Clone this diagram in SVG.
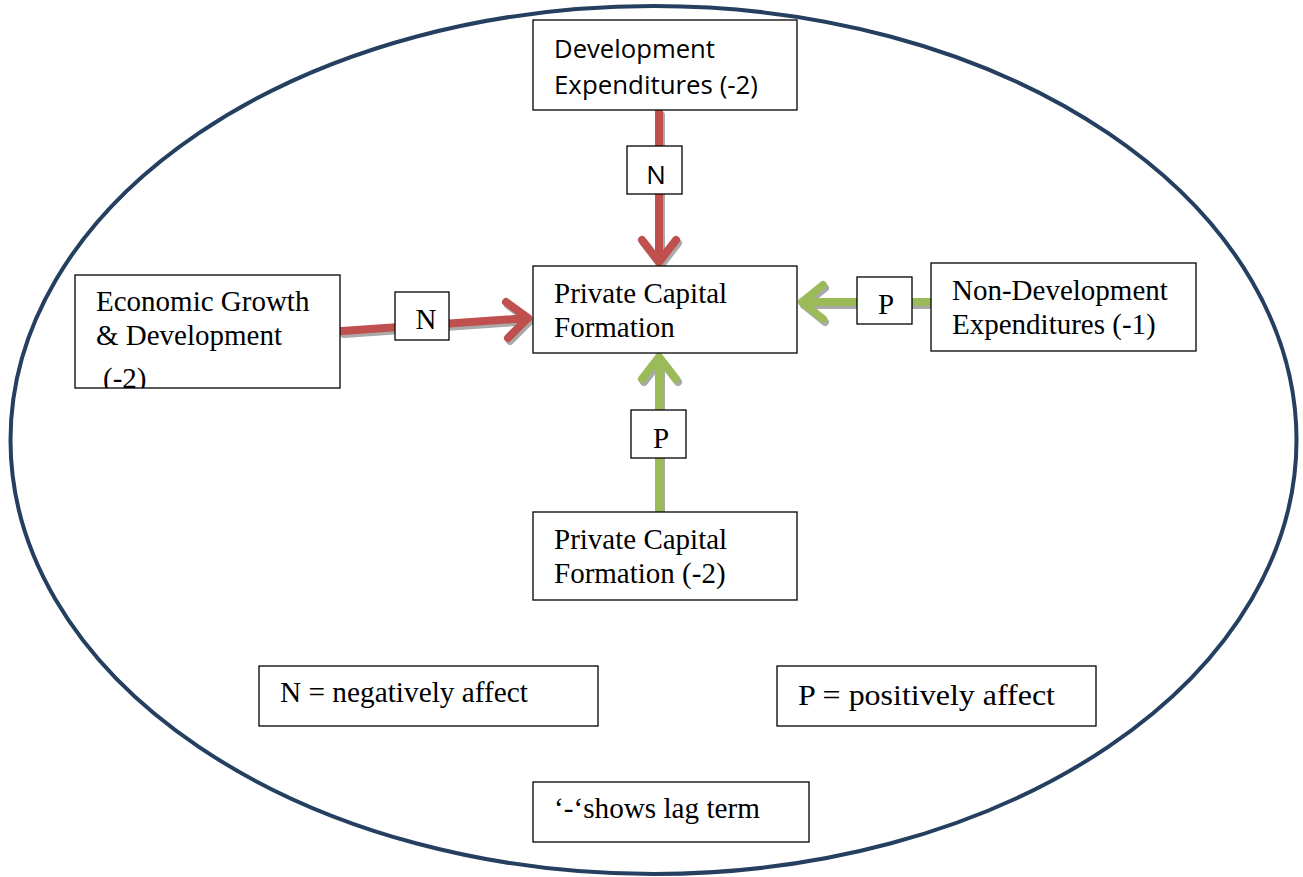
<svg xmlns="http://www.w3.org/2000/svg" width="1303" height="877" viewBox="0 0 1303 877">
  <defs>
    <style>
      .box { fill: #ffffff; stroke: #000000; stroke-width: 1.3; }
      .serif { font-family: "Liberation Serif", "Times New Roman", serif; font-size: 29px; fill: #000; }
      .sans { font-family: "Open Sans", "Liberation Sans", sans-serif; font-size: 26px; fill: #000; }
      .red { stroke: #c0504d; }
      .green { stroke: #9bbb59; }
      .arrow { fill: none; stroke-width: 8; stroke-linecap: round; stroke-linejoin: round; }
      .shadow { fill: none; stroke: #8c8c8c; stroke-width: 8; stroke-linecap: round; stroke-linejoin: round; opacity: 0.75; }
    </style>
    <clipPath id="clipGrowth">
      <rect x="75" y="275" width="265" height="113"/>
    </clipPath>
  </defs>

  <rect width="1303" height="877" fill="#ffffff"/>

  <!-- outer frame -->
  <ellipse id="frame" cx="653.5" cy="440" rx="643" ry="434" fill="none" stroke="#243f60" stroke-width="4"/>

  <!-- connectors -->
  <g id="connectors">
    <!-- shadows -->
    <g transform="translate(2,3)">
      <path class="shadow" d="M659 112 V262 M642 240 L659 262 L676 240"/>
      <path class="shadow" d="M342 331 L528 318 M506 302 L528 318 L508 338"/>
      <path class="shadow" d="M929 302 H802 M823 285 L802 302 L823 319"/>
      <path class="shadow" d="M659 510 V357 M642 379 L659 357 L676 379"/>
    </g>
    <path class="arrow red" d="M659 112 V262 M642 240 L659 262 L676 240"/>
    <path class="arrow red" d="M342 331 L528 318 M506 302 L528 318 L508 338"/>
    <path class="arrow green" d="M929 302 H802 M823 285 L802 302 L823 319"/>
    <path class="arrow green" d="M659 510 V357 M642 379 L659 357 L676 379"/>
  </g>

  <g id="dev-exp">
    <rect class="box" x="533" y="20" width="264" height="90"/>
    <text class="sans" x="554" y="58" textLength="161" lengthAdjust="spacingAndGlyphs">Development</text>
    <text class="sans" x="554" y="94" textLength="204" lengthAdjust="spacingAndGlyphs">Expenditures (-2)</text>
  </g>

  <g id="pcf">
    <rect class="box" x="533" y="266" width="264" height="87"/>
    <text class="serif" x="554" y="303">Private Capital</text>
    <text class="serif" x="554" y="337">Formation</text>
  </g>

  <g id="growth">
    <rect class="box" x="75" y="275" width="265" height="113"/>
    <g clip-path="url(#clipGrowth)">
      <text class="serif" x="96" y="311">Economic Growth</text>
      <text class="serif" x="96" y="345">&amp; Development</text>
      <text class="serif" x="103" y="388">(-2)</text>
    </g>
  </g>

  <g id="non-dev-exp">
    <rect class="box" x="931" y="263" width="265" height="88"/>
    <text class="serif" x="952" y="300">Non-Development</text>
    <text class="serif" x="952" y="334">Expenditures (-1)</text>
  </g>

  <g id="pcf-lag">
    <rect class="box" x="533" y="512" width="264" height="88"/>
    <text class="serif" x="554" y="549">Private Capital</text>
    <text class="serif" x="554" y="583">Formation (-2)</text>
  </g>

  <g id="label-n-top">
    <rect class="box" x="627" y="146" width="55" height="48"/>
    <text class="sans" x="656" y="184" text-anchor="middle">N</text>
  </g>

  <g id="label-n-left">
    <rect class="box" x="395" y="292" width="54" height="48"/>
    <text class="serif" x="426" y="329" text-anchor="middle">N</text>
  </g>

  <g id="label-p-right">
    <rect class="box" x="857" y="277" width="55" height="47"/>
    <text class="serif" x="886" y="314" text-anchor="middle">P</text>
  </g>

  <g id="label-p-bottom">
    <rect class="box" x="631" y="410" width="55" height="48"/>
    <text class="serif" x="661" y="448" text-anchor="middle">P</text>
  </g>

  <g id="legend-n">
    <rect class="box" x="259" y="666" width="339" height="60"/>
    <text class="serif" x="280" y="702" textLength="248" lengthAdjust="spacingAndGlyphs">N = negatively affect</text>
  </g>

  <g id="legend-p">
    <rect class="box" x="777" y="666" width="319" height="60"/>
    <text class="serif" x="798" y="705" font-size="31" textLength="257" lengthAdjust="spacingAndGlyphs">P = positively affect</text>
  </g>

  <g id="legend-lag">
    <rect class="box" x="533" y="782" width="276" height="60"/>
    <text class="serif" x="554" y="818" textLength="206" lengthAdjust="spacingAndGlyphs">‘-‘shows lag term</text>
  </g>
</svg>
